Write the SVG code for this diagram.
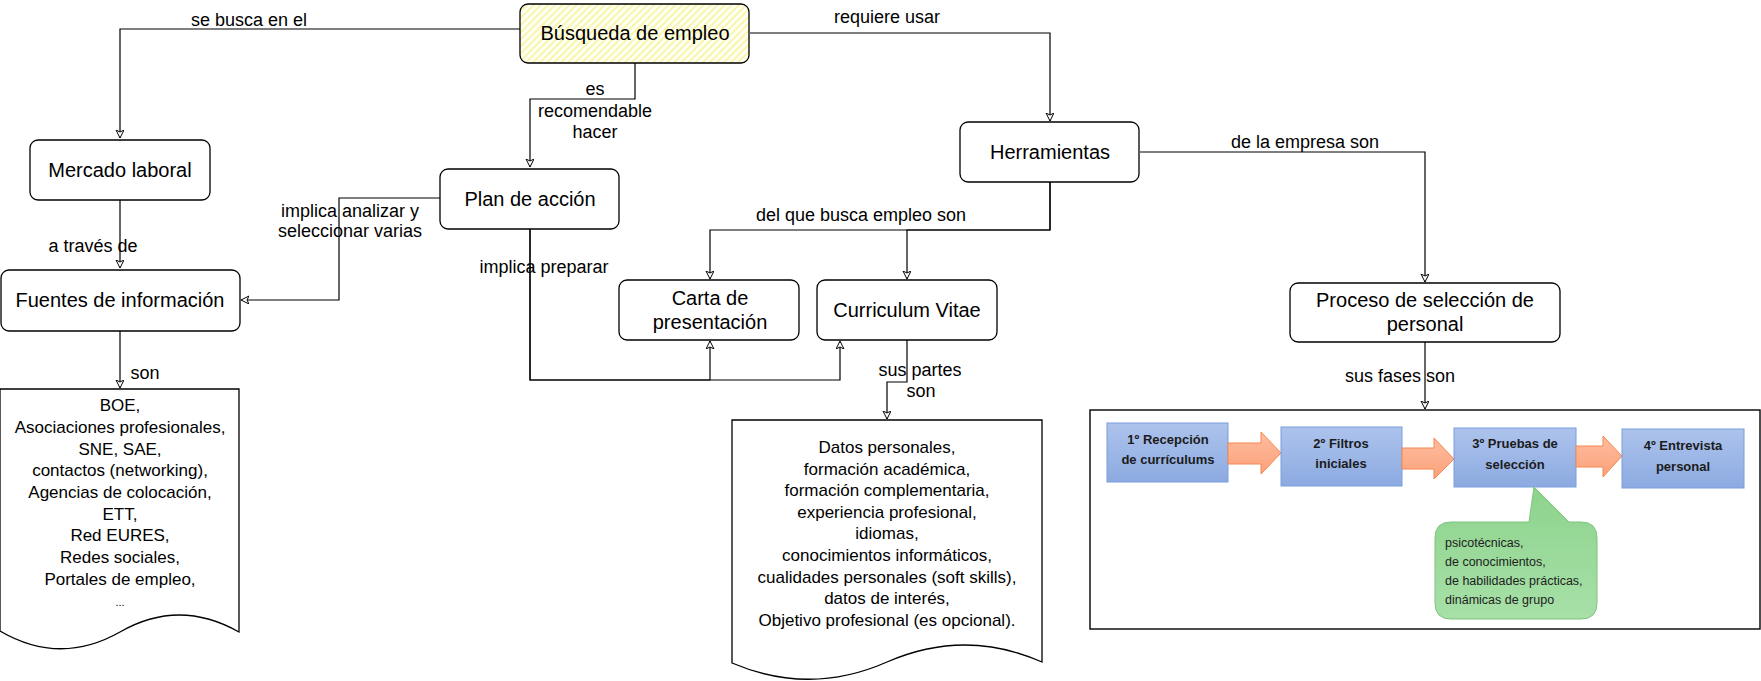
<svg xmlns="http://www.w3.org/2000/svg" width="1761" height="681" viewBox="0 0 1761 681">
<style>
.node{fill:#ffffff;stroke:#000;stroke-width:1.3}
.nt{font-family:"Liberation Sans",Arial,sans-serif;font-size:20px;fill:#000;text-anchor:middle}
.lbl{font-family:"Liberation Sans",Arial,sans-serif;font-size:18px;fill:#000;text-anchor:middle}
.dt{font-family:"Liberation Sans",Arial,sans-serif;font-size:17px;fill:#000;text-anchor:middle}
.edge{fill:none;stroke:#000;stroke-width:1.2;marker-end:url(#arr)}
.ph{fill:url(#blue);stroke:#7b9edc;stroke-width:1}
.pt{font-family:"Liberation Sans",Arial,sans-serif;font-size:13px;font-weight:bold;fill:#1b1b1b;text-anchor:middle}
.pa{fill:url(#salmon);stroke:#f4874e;stroke-width:1}
.ct{font-family:"Liberation Sans",Arial,sans-serif;font-size:12.5px;fill:#222}
</style>
<defs>
<marker id="arr" markerWidth="10" markerHeight="10" refX="8" refY="4" orient="auto" markerUnits="userSpaceOnUse">
<path d="M0,0 L8,4 L0,8 L2,4 Z" fill="#fff" stroke="#000" stroke-width="1"/>
</marker>
<pattern id="hatch" width="5" height="5" patternUnits="userSpaceOnUse" patternTransform="rotate(45)">
<rect width="5" height="5" fill="#fffff4"/>
<line x1="1" y1="0" x2="1" y2="5" stroke="#f8f39a" stroke-width="1.6"/>
</pattern>
<linearGradient id="blue" x1="0" y1="0" x2="0" y2="1">
<stop offset="0" stop-color="#adc3ec"/><stop offset="1" stop-color="#8caae1"/>
</linearGradient>
<linearGradient id="salmon" x1="0" y1="0" x2="0" y2="1">
<stop offset="0" stop-color="#ffbd9f"/><stop offset="1" stop-color="#fba17a"/>
</linearGradient>
<linearGradient id="green" x1="0" y1="0" x2="0" y2="1">
<stop offset="0" stop-color="#8cd38c"/><stop offset="1" stop-color="#a8e0a8"/>
</linearGradient>
</defs>

<g id="connectors">
<path class="edge" d="M520,29 H120 V138"/>
<path class="edge" d="M750,33 H1050 V121"/>
<path class="edge" d="M635,63 V99 H530 V167"/>
<path class="edge" d="M120,200 V268"/>
<path class="edge" d="M440,198 H339 V300 H241"/>
<path class="edge" d="M120,331 V388"/>
<path class="edge" d="M530,229 V380 H710 V341"/>
<path class="edge" d="M530,229 V380 H840 V341"/>
<path class="edge" d="M1050,182 V230 H710 V279"/>
<path class="edge" d="M1050,182 V230 H907 V279"/>
<path class="edge" d="M1140,152 H1425 V282"/>
<path class="edge" d="M907,340 V382 H887 V419"/>
<path class="edge" d="M1425,342 V409"/>
<text class="lbl" x="249" y="26">se busca en el</text>
<text class="lbl" x="887" y="23">requiere usar</text>
<text class="lbl" x="595" y="95">es</text>
<text class="lbl" x="595" y="117">recomendable</text>
<text class="lbl" x="595" y="138">hacer</text>
<text class="lbl" x="93" y="252">a través de</text>
<text class="lbl" x="350" y="217">implica analizar y</text>
<text class="lbl" x="350" y="237">seleccionar varias</text>
<text class="lbl" x="145" y="379">son</text>
<text class="lbl" x="544" y="273">implica preparar</text>
<text class="lbl" x="861" y="221">del que busca empleo son</text>
<text class="lbl" x="1305" y="148">de la empresa son</text>
<text class="lbl" x="920" y="376">sus partes</text>
<text class="lbl" x="921" y="397">son</text>
<text class="lbl" x="1400" y="382">sus fases son</text>
</g>

<g id="busqueda">
<rect x="520" y="4" width="229" height="59" rx="8" fill="url(#hatch)" stroke="#000" stroke-width="1.3"/>
<text class="nt" x="635" y="40">Búsqueda de empleo</text>
</g>
<g id="mercado">
<rect class="node" x="30" y="140" width="180" height="60" rx="8"/>
<text class="nt" x="120" y="177">Mercado laboral</text>
</g>
<g id="plan">
<rect class="node" x="440" y="169" width="179" height="60" rx="8"/>
<text class="nt" x="530" y="206">Plan de acción</text>
</g>
<g id="herramientas">
<rect class="node" x="960" y="122" width="179" height="60" rx="8"/>
<text class="nt" x="1050" y="159">Herramientas</text>
</g>
<g id="fuentes">
<rect class="node" x="1" y="270" width="239" height="61" rx="8"/>
<text class="nt" x="120" y="307">Fuentes de información</text>
</g>
<g id="carta">
<rect class="node" x="619" y="280" width="180" height="60" rx="8"/>
<text class="nt" x="710" y="305">Carta de</text>
<text class="nt" x="710" y="329">presentación</text>
</g>
<g id="cv">
<rect class="node" x="817" y="280" width="180" height="60" rx="8"/>
<text class="nt" x="907" y="317">Curriculum Vitae</text>
</g>
<g id="proceso">
<rect class="node" x="1290" y="283" width="270" height="59" rx="8"/>
<text class="nt" x="1425" y="307">Proceso de selección de</text>
<text class="nt" x="1425" y="331">personal</text>
</g>

<g id="fuentes-lista">
<path class="node" d="M0,389 L239,389 L239,632 Q179,598 120,632 Q60,666 0,631 Z"/>
<text class="dt" x="120" y="411">BOE,</text>
<text class="dt" x="120" y="433">Asociaciones profesionales,</text>
<text class="dt" x="120" y="455">SNE, SAE,</text>
<text class="dt" x="120" y="476">contactos (networking),</text>
<text class="dt" x="120" y="498">Agencias de colocación,</text>
<text class="dt" x="120" y="520">ETT,</text>
<text class="dt" x="120" y="541">Red EURES,</text>
<text class="dt" x="120" y="563">Redes sociales,</text>
<text class="dt" x="120" y="585">Portales de empleo,</text>
<text class="dt" x="120" y="606" style="font-size:11px">...</text>
</g>

<g id="cv-partes">
<path class="node" d="M732,420 L1042,420 L1042,662 Q965,628 887,662 Q810,696 732,663 Z"/>
<text class="dt" x="887" y="453">Datos personales,</text>
<text class="dt" x="887" y="475">formación académica,</text>
<text class="dt" x="887" y="496">formación complementaria,</text>
<text class="dt" x="887" y="518">experiencia profesional,</text>
<text class="dt" x="887" y="539">idiomas,</text>
<text class="dt" x="887" y="561">conocimientos informáticos,</text>
<text class="dt" x="887" y="583">cualidades personales (soft skills),</text>
<text class="dt" x="887" y="604">datos de interés,</text>
<text class="dt" x="887" y="626">Objetivo profesional (es opcional).</text>
</g>

<g id="fases">
<rect x="1090" y="410" width="670" height="219" fill="#fff" stroke="#000" stroke-width="1.4"/>
<rect class="ph" x="1107" y="423" width="121" height="59"/>
<text class="pt" x="1168" y="444">1º Recepción</text>
<text class="pt" x="1168" y="464">de currículums</text>
<path class="pa" d="M1228,443 H1261 V432 L1281,453 L1261,474 V464 H1228 Z"/>
<rect class="ph" x="1281" y="427" width="121" height="59"/>
<text class="pt" x="1341" y="448">2º Filtros</text>
<text class="pt" x="1341" y="468">iniciales</text>
<path class="pa" d="M1402,448 H1434 V438 L1454,459 L1434,479 V469 H1402 Z"/>
<rect class="ph" x="1454" y="428" width="122" height="59"/>
<text class="pt" x="1515" y="448">3º Pruebas de</text>
<text class="pt" x="1515" y="469">selección</text>
<path class="pa" d="M1576,446 H1603 V436 L1622,456 L1603,477 V467 H1576 Z"/>
<rect class="ph" x="1622" y="429" width="122" height="59"/>
<text class="pt" x="1683" y="450">4º Entrevista</text>
<text class="pt" x="1683" y="471">personal</text>
<path d="M1451,522 H1529 L1534,487 L1569,522 H1581 Q1597,522 1597,538 V603 Q1597,619 1581,619 H1451 Q1435,619 1435,603 V538 Q1435,522 1451,522 Z" fill="url(#green)" stroke="#7cc47c" stroke-width="1"/>
<text class="ct" x="1445" y="547">psicotécnicas,</text>
<text class="ct" x="1445" y="566">de conocimientos,</text>
<text class="ct" x="1445" y="585">de habilidades prácticas,</text>
<text class="ct" x="1445" y="604">dinámicas de grupo</text>
</g>
</svg>
